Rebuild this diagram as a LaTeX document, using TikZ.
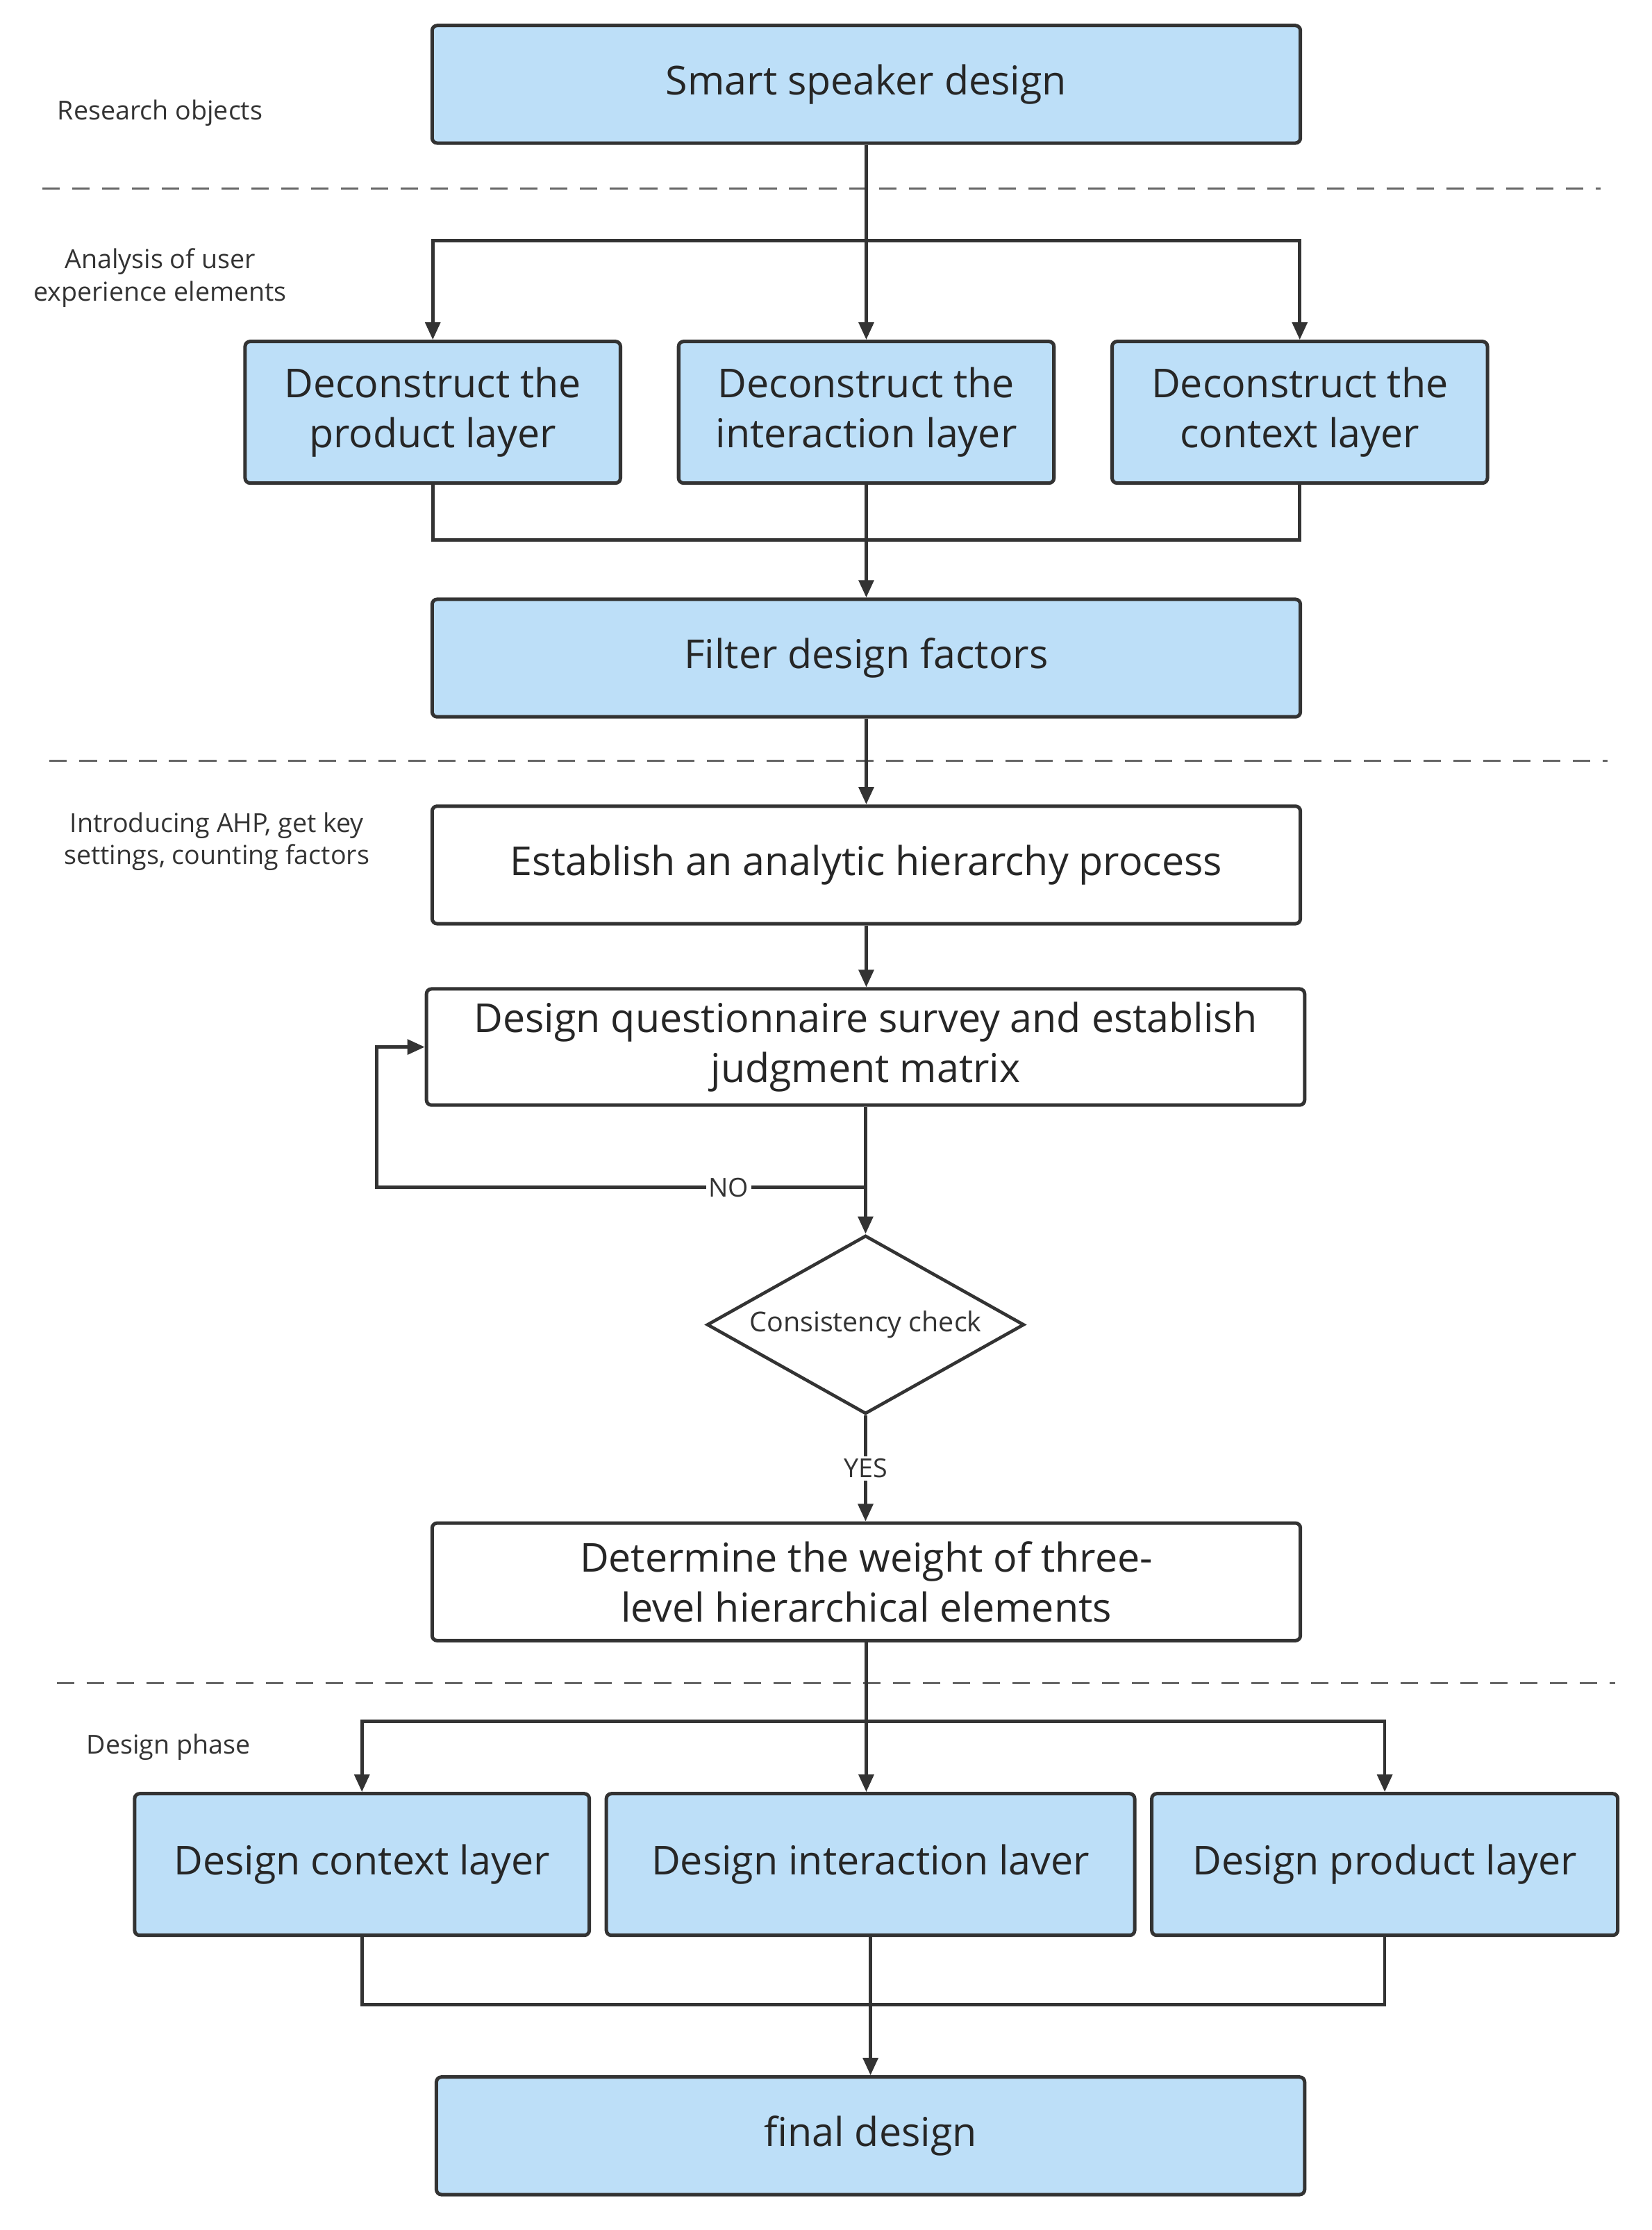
\documentclass[tikz,border=0pt]{standalone}
\usepackage{fontspec}
\setmainfont{Open Sans}
\usetikzlibrary{shapes.geometric,arrows.meta}
\definecolor{bfill}{HTML}{BDDFF8}
\definecolor{edge}{HTML}{333333}
\begin{document}
\begin{tikzpicture}[x=0.02cm,y=-0.02cm,
  box/.style={draw=edge,line width=1.4pt,rounded corners=2pt,fill=bfill,inner sep=0pt,align=center,font=\fontsize{16}{20}\selectfont,text=black!85},
  wbox/.style={box,fill=white},
  side/.style={font=\fontsize{10.5}{13}\selectfont,align=center,text=black!80},
  ln/.style={draw=edge,line width=1.3pt},
  arr/.style={ln,-{Triangle[length=7pt,width=6pt]}},
  dsh/.style={draw=black!60,line width=1pt,dash pattern=on 7pt off 5pt}]
\useasboundingbox (0,0) rectangle (1166,1574);
\node[box,minimum width=12.26cm,minimum height=1.66cm] (s) at (611.5,59.5) {Smart speaker design};
\draw[dsh] (30,133) -- (1130,133);
\node[side] (l1) at (113,80) {Research objects};
\node[side] (l2) at (113,196) {Analysis of user\\experience elements};
\node[box,minimum width=5.3cm,minimum height=2cm] (d1) at (305.5,291) {Deconstruct the\\product layer};
\node[box,minimum width=5.3cm,minimum height=2cm] (d2) at (611.5,291) {Deconstruct the\\interaction layer};
\node[box,minimum width=5.3cm,minimum height=2cm] (d3) at (917.5,291) {Deconstruct the\\context layer};
\coordinate (b1) at (611.5,170);
\draw[ln] (s.south) -- (b1);
\draw[arr] (b1) -| (d1.north);
\draw[arr] (b1) -- (d2.north);
\draw[arr] (b1) -| (d3.north);
\node[box,minimum width=12.26cm,minimum height=1.66cm] (f) at (611.5,464.5) {Filter design factors};
\coordinate (m1) at (611.5,381);
\draw[ln] (d1.south) |- (m1) -| (d3.south);
\draw[ln] (d2.south) -- (m1);
\draw[arr] (m1) -- (f.north);
\draw[dsh] (35,537) -- (1135,537);
\node[side] (l3) at (153,594) {Introducing AHP, get key\\settings, counting factors};
\node[wbox,minimum width=12.26cm,minimum height=1.66cm] (a) at (611.5,610.5) {Establish an analytic hierarchy process};
\draw[arr] (f.south) -- (a.north);
\node[wbox,minimum width=12.4cm,minimum height=1.64cm] (q) at (611,739) {Design questionnaire survey and establish\\judgment matrix};
\draw[arr] (a.south) -- (q.north -| a.south);
\node[draw=edge,line width=1.3pt,diamond,aspect=1.78,minimum width=4.48cm,minimum height=2.52cm,inner sep=0pt,font=\fontsize{11}{13}\selectfont,text=black!80] (c) at (611,935) {Consistency check};
\coordinate (n1) at (611,838);
\coordinate (n2) at (266,838);
\draw[ln] (q.south) -- (n1);
\draw[arr] (n1) -- (c.north);
\draw[arr] (n1) -- node[fill=white,inner sep=1pt,side,pos=0.28]{NO} (n2) |- (q.west);
\node[wbox,minimum width=12.26cm,minimum height=1.66cm] (w) at (611.5,1116.5) {Determine the weight of three-\\level hierarchical elements};
\draw[arr] (c.south) -- node[fill=white,inner sep=1pt,side]{YES} (c.south |- w.north);
\draw[dsh] (40,1188) -- (1140,1188);
\node[side] (l4) at (119,1233) {Design phase};
\node[box,minimum width=6.42cm,minimum height=2cm] (e1) at (255.5,1316) {Design context layer};
\node[box,minimum width=7.46cm,minimum height=2cm] (e2) at (614.5,1316) {Design interaction laver};
\node[box,minimum width=6.58cm,minimum height=2cm] (e3) at (977.5,1316) {Design product layer};
\coordinate (b2) at (611.5,1215);
\draw[ln] (w.south) -- (b2);
\draw[arr] (b2) -| (e1.north);
\draw[arr] (b2) -- (b2 |- e2.north);
\draw[arr] (b2) -| (e3.north);
\node[box,minimum width=12.26cm,minimum height=1.66cm] (fd) at (614.5,1507.5) {final design};
\coordinate (m2) at (614.5,1415);
\draw[ln] (e1.south) |- (m2) -| (e3.south);
\draw[ln] (e2.south) -- (m2);
\draw[arr] (m2) -- (fd.north);
\end{tikzpicture}
\end{document}
